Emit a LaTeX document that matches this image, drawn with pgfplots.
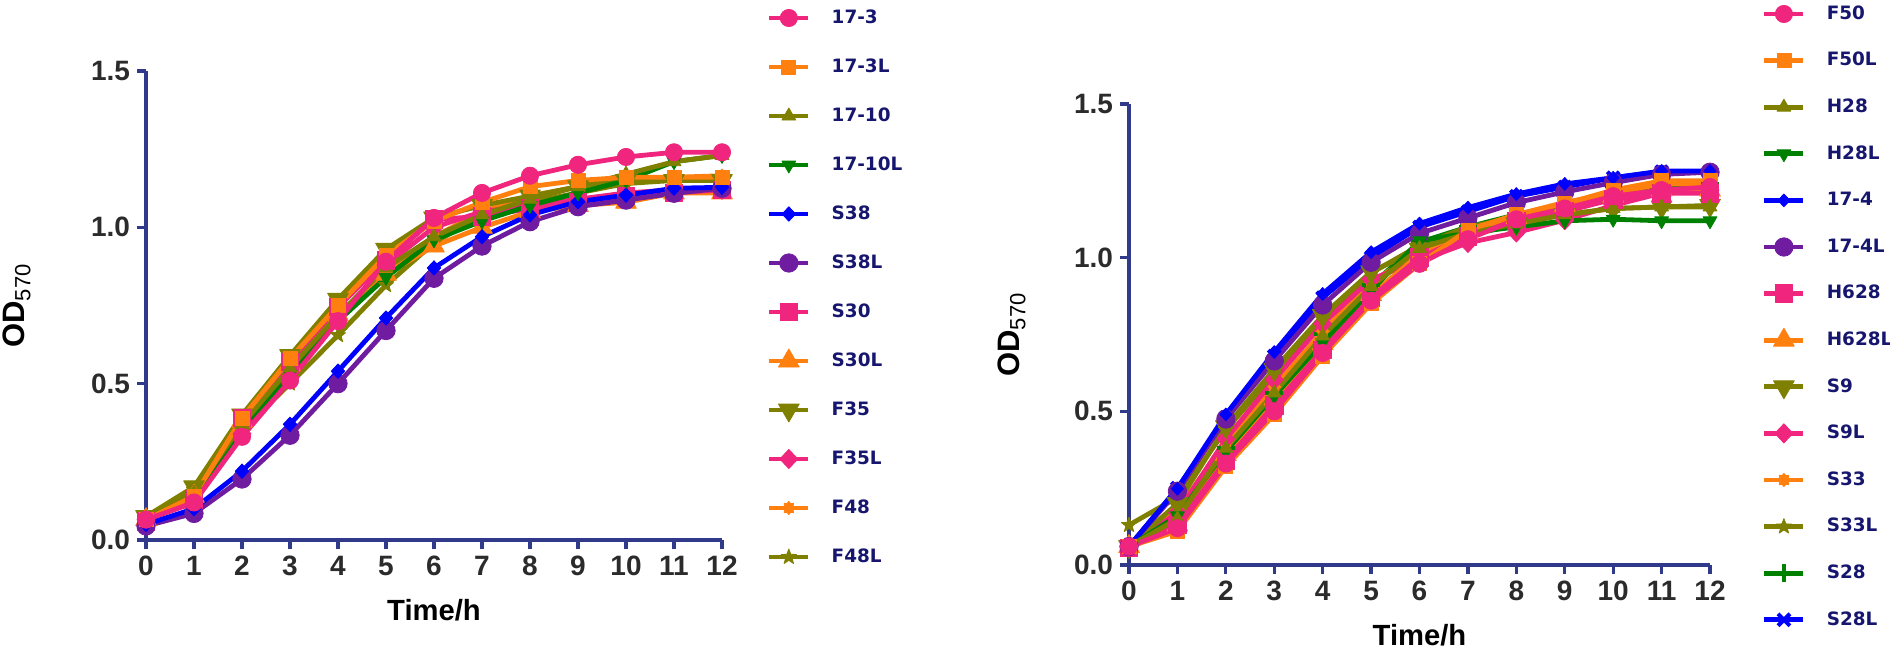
\documentclass[border=0pt]{standalone}
\usepackage{fontspec}
\setmainfont{Liberation Sans}
\newfontfamily\legfont{DejaVu Sans}
\usepackage{pgfplots}
\usepackage{pgfplotstable}
\pgfplotsset{compat=1.18}

\definecolor{cpink}{HTML}{F0257D}
\definecolor{corange}{HTML}{FF7F0F}
\definecolor{colive}{HTML}{808000}
\definecolor{cgreen}{HTML}{008000}
\definecolor{cblue}{HTML}{0000FF}
\definecolor{cpurple}{HTML}{701CA0}
\definecolor{axiscol}{HTML}{30398A}
\definecolor{legcol}{HTML}{16166E}
\definecolor{ticklab}{HTML}{2B2B2B}

\pgfdeclareplotmark{fstar}{%
 \pgfpathmoveto{\pgfpointpolar{90}{\pgfplotmarksize}}%
 \pgfpathlineto{\pgfpointpolar{126}{0.42\pgfplotmarksize}}%
 \pgfpathlineto{\pgfpointpolar{162}{\pgfplotmarksize}}%
 \pgfpathlineto{\pgfpointpolar{198}{0.42\pgfplotmarksize}}%
 \pgfpathlineto{\pgfpointpolar{234}{\pgfplotmarksize}}%
 \pgfpathlineto{\pgfpointpolar{270}{0.42\pgfplotmarksize}}%
 \pgfpathlineto{\pgfpointpolar{306}{\pgfplotmarksize}}%
 \pgfpathlineto{\pgfpointpolar{342}{0.42\pgfplotmarksize}}%
 \pgfpathlineto{\pgfpointpolar{18}{\pgfplotmarksize}}%
 \pgfpathlineto{\pgfpointpolar{54}{0.42\pgfplotmarksize}}%
 \pgfpathclose
 \pgfusepathqfillstroke}

\pgfdeclareplotmark{cog}{%
 \pgfpathmoveto{\pgfpointpolar{0}{\pgfplotmarksize}}%
 \pgfpathlineto{\pgfpointpolar{22.5}{0.72\pgfplotmarksize}}%
 \pgfpathlineto{\pgfpointpolar{45}{\pgfplotmarksize}}%
 \pgfpathlineto{\pgfpointpolar{67.5}{0.72\pgfplotmarksize}}%
 \pgfpathlineto{\pgfpointpolar{90}{\pgfplotmarksize}}%
 \pgfpathlineto{\pgfpointpolar{112.5}{0.72\pgfplotmarksize}}%
 \pgfpathlineto{\pgfpointpolar{135}{\pgfplotmarksize}}%
 \pgfpathlineto{\pgfpointpolar{157.5}{0.72\pgfplotmarksize}}%
 \pgfpathlineto{\pgfpointpolar{180}{\pgfplotmarksize}}%
 \pgfpathlineto{\pgfpointpolar{202.5}{0.72\pgfplotmarksize}}%
 \pgfpathlineto{\pgfpointpolar{225}{\pgfplotmarksize}}%
 \pgfpathlineto{\pgfpointpolar{247.5}{0.72\pgfplotmarksize}}%
 \pgfpathlineto{\pgfpointpolar{270}{\pgfplotmarksize}}%
 \pgfpathlineto{\pgfpointpolar{292.5}{0.72\pgfplotmarksize}}%
 \pgfpathlineto{\pgfpointpolar{315}{\pgfplotmarksize}}%
 \pgfpathlineto{\pgfpointpolar{337.5}{0.72\pgfplotmarksize}}%
 \pgfpathclose
 \pgfusepathqfillstroke}

\pgfplotstableread{
t  L1    L2    L3    L4    L5    L6    L7    L8    L9    L10   L11   L12
0  0.065 0.065 0.070 0.065 0.050 0.045 0.060 0.065 0.075 0.065 0.060 0.070
1  0.120 0.140 0.150 0.140 0.100 0.085 0.130 0.140 0.170 0.120 0.130 0.160
2  0.330 0.390 0.370 0.360 0.220 0.195 0.390 0.380 0.400 0.340 0.360 0.350
3  0.510 0.580 0.550 0.530 0.370 0.335 0.570 0.560 0.590 0.520 0.550 0.500
4  0.700 0.750 0.720 0.700 0.540 0.500 0.745 0.720 0.770 0.710 0.720 0.655
5  0.890 0.910 0.870 0.840 0.710 0.670 0.895 0.850 0.930 0.880 0.860 0.815
6  1.030 1.020 0.970 0.960 0.870 0.837 1.025 0.940 1.030 1.000 0.970 0.950
7  1.110 1.080 1.040 1.020 0.970 0.940 1.035 1.000 1.070 1.050 1.050 1.040
8  1.165 1.130 1.090 1.070 1.040 1.018 1.060 1.050 1.100 1.070 1.100 1.080
9  1.200 1.150 1.130 1.110 1.082 1.066 1.080 1.070 1.130 1.090 1.130 1.110
10 1.225 1.160 1.170 1.150 1.103 1.087 1.100 1.080 1.150 1.110 1.150 1.140
11 1.240 1.160 1.210 1.210 1.125 1.109 1.110 1.110 1.150 1.120 1.160 1.150
12 1.240 1.160 1.230 1.230 1.128 1.125 1.120 1.110 1.150 1.120 1.165 1.150
}\lefttab

\pgfplotstableread{
t  R1    R2    R3    R4    R5    R6    R7    R8    R9    R10   R11   R12   R13   R14
0  0.060 0.060 0.060 0.060 0.060 0.060 0.055 0.060 0.060 0.060 0.060 0.130 0.060 0.060
1  0.120 0.110 0.150 0.160 0.248 0.240 0.130 0.130 0.200 0.170 0.180 0.220 0.150 0.250
2  0.330 0.320 0.380 0.370 0.490 0.475 0.340 0.360 0.450 0.410 0.400 0.440 0.380 0.480
3  0.500 0.490 0.560 0.550 0.693 0.664 0.520 0.540 0.637 0.603 0.580 0.620 0.560 0.680
4  0.690 0.680 0.745 0.724 0.882 0.846 0.700 0.720 0.812 0.785 0.760 0.800 0.750 0.870
5  0.860 0.850 0.906 0.893 1.018 0.985 0.870 0.880 0.954 0.930 0.920 0.950 0.910 1.000
6  0.980 0.980 1.030 1.055 1.111 1.079 1.000 1.010 1.028 0.990 1.020 1.040 1.050 1.100
7  1.060 1.090 1.080 1.080 1.163 1.129 1.070 1.080 1.070 1.048 1.090 1.100 1.100 1.150
8  1.125 1.140 1.110 1.100 1.207 1.179 1.120 1.130 1.110 1.082 1.140 1.130 1.140 1.200
9  1.160 1.175 1.140 1.120 1.240 1.214 1.150 1.170 1.140 1.122 1.180 1.160 1.170 1.230
10 1.200 1.220 1.160 1.125 1.260 1.244 1.190 1.200 1.160 1.170 1.210 1.190 1.200 1.260
11 1.220 1.250 1.165 1.120 1.282 1.271 1.210 1.220 1.165 1.210 1.240 1.210 1.230 1.280
12 1.230 1.250 1.165 1.120 1.282 1.278 1.210 1.220 1.170 1.220 1.240 1.220 1.240 1.280
}\righttab

\pgfplotsset{
 mcirc/.style={color=#1, mark=*, mark size=4.3pt, mark options={solid, fill=#1, line width=0.4pt}},
 msq/.style={color=#1, mark=square*, mark size=3.5pt, mark options={solid, fill=#1, line width=0.4pt}},
 msqb/.style={color=#1, mark=square*, mark size=4.4pt, mark options={solid, fill=#1, line width=0.4pt}},
 mtri/.style={color=#1, mark=triangle*, mark size=4pt, mark options={solid, fill=#1, line width=0.4pt}},
 mtrib/.style={color=#1, mark=triangle*, mark size=6pt, mark options={solid, fill=#1, line width=0.4pt}},
 mdtri/.style={color=#1, mark=triangle*, mark size=4pt, mark options={solid, fill=#1, line width=0.4pt, rotate=180}},
 mdtrib/.style={color=#1, mark=triangle*, mark size=6pt, mark options={solid, fill=#1, line width=0.4pt, rotate=180}},
 mdia/.style={color=#1, mark=diamond*, mark size=3.6pt, mark options={solid, fill=#1, line width=0.4pt, xscale=1.25}},
 mdiab/.style={color=#1, mark=diamond*, mark size=4.8pt, mark options={solid, fill=#1, line width=0.4pt, xscale=1.25}},
 mcog/.style={color=#1, mark=cog, mark size=3.3pt, mark options={solid, fill=#1, line width=0.4pt}},
 mstar/.style={color=#1, mark=fstar, mark size=4pt, mark options={solid, fill=#1, line width=0.4pt}},
 mplus/.style={color=#1, mark=+, mark size=4.5pt, mark options={solid, line width=2pt}},
 mx/.style={color=#1, mark=x, mark size=4.2pt, mark options={solid, line width=2pt}},
 growth/.style={
   scale only axis, xmin=0, xmax=12, ymin=0, ymax=1.5,
   axis lines=left, axis line style={-, draw=axiscol, line width=1.6pt},
   xtick={0,...,12}, ytick={0,0.5,1,1.5},
   tick align=outside, major tick length=4.5pt,
   tick style={draw=axiscol, line width=1.6pt},
   /pgf/number format/assume math mode=true,
   ticklabel style={font=\fontsize{14}{16}\selectfont\bfseries, text=ticklab},
   yticklabel style={/pgf/number format/fixed, /pgf/number format/fixed zerofill, /pgf/number format/precision=1},
   xlabel={Time/h},
   ylabel={OD\textsubscript{\mdseries\fontsize{11}{12}\selectfont 570}},
   xlabel style={font=\fontsize{14.6}{16}\selectfont\bfseries, at={(axis description cs:0.5,0)}, anchor=center, yshift=-35pt},
   clip=false,
   every axis plot/.append style={line width=2.4pt, line join=round},
   legend cell align=left,
   reverse legend,
   legend style={draw=none, fill=none, inner sep=0pt, outer sep=0pt,
     font=\legfont\bfseries\fontsize{9.2}{10}\selectfont, text=legcol,
     row sep=12.5pt, column sep=10.5pt, nodes={inner sep=0pt}, anchor=north west},
   legend image code/.code={\path[draw=none, fill=none] (0pt,-6pt) rectangle (19.5pt,6pt);
     \draw[mark repeat=2, mark phase=2, ##1] plot coordinates {(0pt,0pt) (9.75pt,0pt) (19.5pt,0pt)};},
 }
}

\begin{document}
\begin{tikzpicture}
\useasboundingbox (0,0) rectangle (945pt,326.5pt);
% left panel
\begin{axis}[growth, at={(73pt,56.5pt)}, anchor=south west, width=288pt, height=234.5pt,
  ylabel style={font=\fontsize{15.5}{17}\selectfont\bfseries, at={(axis description cs:-0.224,0.5)}, anchor=center},
  legend style={at={(1.078,1.1386)}}]
\addplot[mstar=colive]   table[x=t,y=L12] {\lefttab}; \addlegendentry{F48L}
\addplot[mcog=corange]   table[x=t,y=L11] {\lefttab}; \addlegendentry{F48}
\addplot[mdiab=cpink]    table[x=t,y=L10] {\lefttab}; \addlegendentry{F35L}
\addplot[mdtrib=colive]  table[x=t,y=L9]  {\lefttab}; \addlegendentry{F35}
\addplot[mtrib=corange]  table[x=t,y=L8]  {\lefttab}; \addlegendentry{S30L}
\addplot[msqb=cpink]     table[x=t,y=L7]  {\lefttab}; \addlegendentry{S30}
\addplot[mcirc=cpurple,mark size=4.6pt] table[x=t,y=L6]  {\lefttab}; \addlegendentry{S38L}
\addplot[mdia=cblue]     table[x=t,y=L5]  {\lefttab}; \addlegendentry{S38}
\addplot[mdtri=cgreen]   table[x=t,y=L4]  {\lefttab}; \addlegendentry{17-10L}
\addplot[mtri=colive]    table[x=t,y=L3]  {\lefttab}; \addlegendentry{17-10}
\addplot[msq=corange]    table[x=t,y=L2]  {\lefttab}; \addlegendentry{17-3L}
\addplot[mcirc=cpink]    table[x=t,y=L1]  {\lefttab}; \addlegendentry{17-3}
\end{axis}
% right panel
\begin{axis}[growth, at={(564.5pt,44pt)}, anchor=south west, width=290.5pt, height=230.5pt,
  ylabel style={font=\fontsize{15.5}{17}\selectfont\bfseries, at={(axis description cs:-0.2014,0.5)}, anchor=center},
  legend style={at={(1.0895,1.2213)}, row sep=11.3pt}]
\addplot[mx=cblue]       table[x=t,y=R14] {\righttab}; \addlegendentry{S28L}
\addplot[mplus=cgreen]   table[x=t,y=R13] {\righttab}; \addlegendentry{S28}
\addplot[mstar=colive]   table[x=t,y=R12] {\righttab}; \addlegendentry{S33L}
\addplot[mcog=corange]   table[x=t,y=R11] {\righttab}; \addlegendentry{S33}
\addplot[mdiab=cpink]    table[x=t,y=R10] {\righttab}; \addlegendentry{S9L}
\addplot[mdtrib=colive]  table[x=t,y=R9]  {\righttab}; \addlegendentry{S9}
\addplot[mtrib=corange]  table[x=t,y=R8]  {\righttab}; \addlegendentry{H628L}
\addplot[msqb=cpink]     table[x=t,y=R7]  {\righttab}; \addlegendentry{H628}
\addplot[mcirc=cpurple,mark size=4.6pt] table[x=t,y=R6]  {\righttab}; \addlegendentry{17-4L}
\addplot[mdia=cblue,mark size=3.2pt] table[x=t,y=R5] {\righttab}; \addlegendentry{17-4}
\addplot[mdtri=cgreen]   table[x=t,y=R4]  {\righttab}; \addlegendentry{H28L}
\addplot[mtri=colive]    table[x=t,y=R3]  {\righttab}; \addlegendentry{H28}
\addplot[msq=corange]    table[x=t,y=R2]  {\righttab}; \addlegendentry{F50L}
\addplot[mcirc=cpink]    table[x=t,y=R1]  {\righttab}; \addlegendentry{F50}
\end{axis}
\end{tikzpicture}
\end{document}
